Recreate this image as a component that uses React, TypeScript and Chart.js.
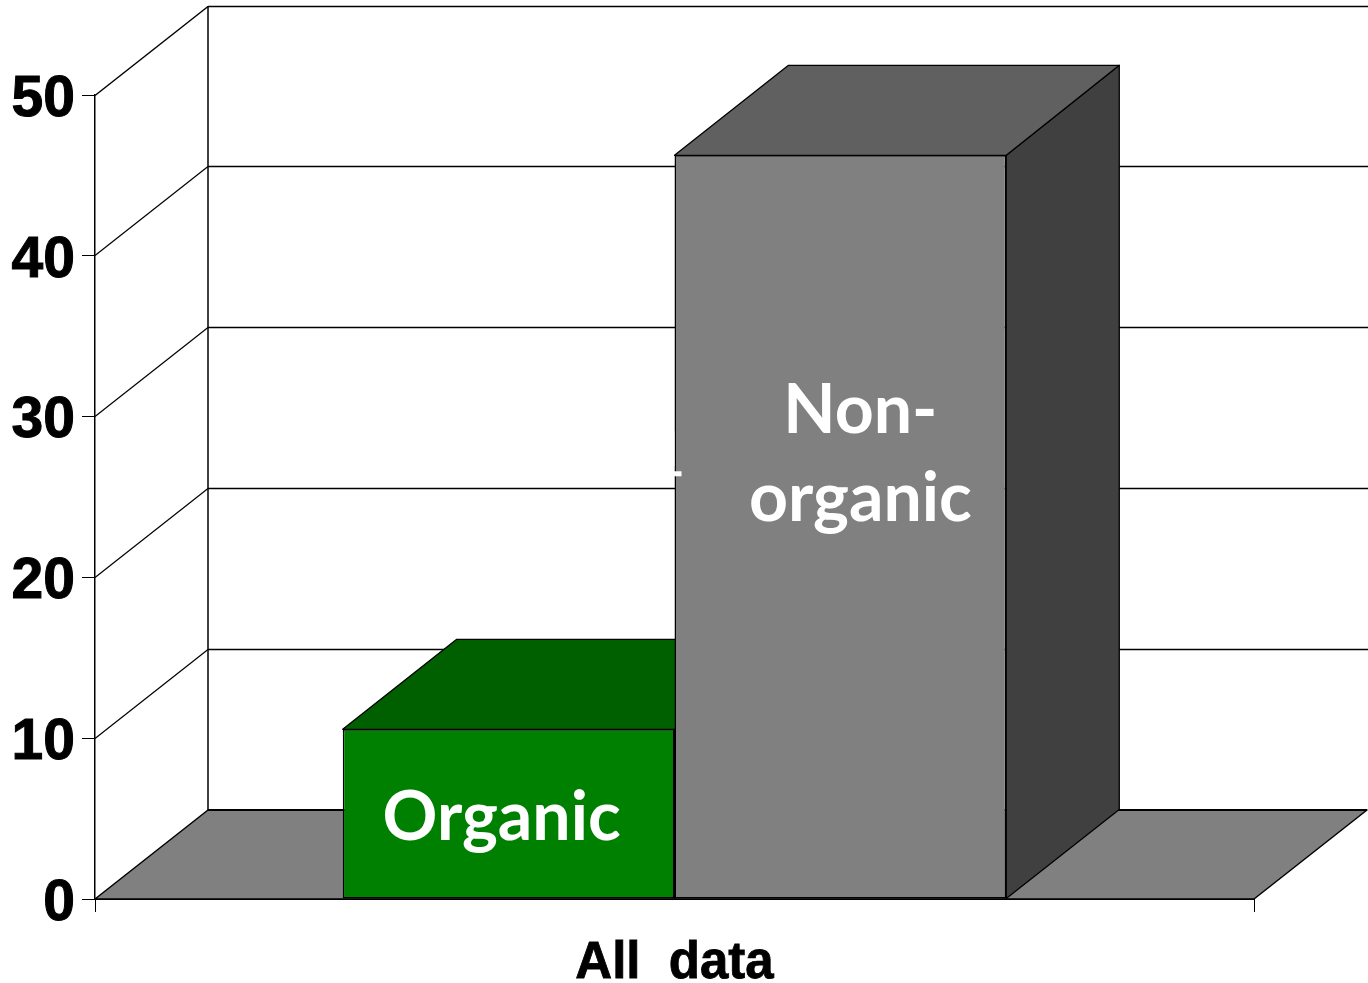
import React, { useEffect, useRef } from "react";
import { Chart, registerables } from "chart.js";

Chart.register(...registerables);

const categories = ["All  data"];
const organicValues = [10.55];
const nonOrganicValues = [46.25];
const organicLabelLines = ["Organic"];
const nonOrganicLabelLines = ["Non-", "organic"];
const yTickStep = 10;
const yMax = 50;

const DEPTH_X = 113;
const DEPTH_Y = -89;
const BAR_DEPTH_Y = -90;
const Y_LABEL_SHIFT = 5;

const poly = (ctx: CanvasRenderingContext2D, pts: number[][], fill: string, lw = 1.5) => {
  ctx.beginPath();
  pts.forEach(([x, y], i) => (i ? ctx.lineTo(x, y) : ctx.moveTo(x, y)));
  ctx.closePath();
  ctx.fillStyle = fill;
  ctx.fill();
  ctx.strokeStyle = "#000";
  ctx.lineWidth = lw;
  ctx.lineJoin = "round";
  ctx.stroke();
};

const line = (ctx: CanvasRenderingContext2D, x1: number, y1: number, x2: number, y2: number, lw: number) => {
  ctx.beginPath();
  ctx.moveTo(x1, y1);
  ctx.lineTo(x2, y2);
  ctx.strokeStyle = "#000";
  ctx.lineWidth = lw;
  ctx.stroke();
};

const walls3d = {
  id: "walls3d",
  beforeDraw(chart: any) {
    // nudge the native y tick labels down to sit where the reference has them
    const y = chart.scales.y;
    if (!y._shiftPatched) {
      const orig = y.getLabelItems.bind(y);
      y.getLabelItems = (area: any) =>
        orig(area).map((it: any) => ({
          ...it,
          options: {
            ...it.options,
            translation: [it.options.translation[0], it.options.translation[1] + Y_LABEL_SHIFT],
          },
        }));
      y._shiftPatched = true;
    }
  },
  beforeDatasetsDraw(chart: any) {
    const { ctx, chartArea: a, scales } = chart;
    const y = scales.y;
    const base = y.getPixelForValue(0);
    const right = a.right + 1;
    ctx.save();
    for (let v = yTickStep; v <= yMax; v += yTickStep) {
      const p = Math.floor(y.getPixelForValue(v)) + 0.5;
      line(ctx, a.left, p, a.left + DEPTH_X, p + DEPTH_Y, v === yMax ? 1.5 : 1.2);
      line(ctx, a.left + DEPTH_X, p + DEPTH_Y, right + DEPTH_X, p + DEPTH_Y, v === yMax ? 1.5 : 1.3);
    }
    line(ctx, a.left + DEPTH_X, base + DEPTH_Y, a.left + DEPTH_X, y.getPixelForValue(yMax) + DEPTH_Y, 1.5);
    poly(ctx, [
      [a.left, base],
      [a.right, base],
      [a.right + DEPTH_X, base + DEPTH_Y],
      [a.left + DEPTH_X, base + DEPTH_Y],
    ], "#808080");
    line(ctx, a.left + DEPTH_X, base + DEPTH_Y, a.right + DEPTH_X, base + DEPTH_Y, 2);
    const tops = ["#006000", "#606060"];
    const sides = ["#004000", "#404040"];
    chart.data.datasets.forEach((_: any, i: number) => {
      const bar = chart.getDatasetMeta(i).data[0];
      const l = bar.x - bar.width / 2;
      const r = bar.x + bar.width / 2;
      poly(ctx, [
        [r, bar.y],
        [r + DEPTH_X, bar.y + BAR_DEPTH_Y],
        [r + DEPTH_X, bar.base + DEPTH_Y],
        [r, bar.base],
      ], sides[i], 1.3);
      poly(ctx, [
        [l, bar.y],
        [l + DEPTH_X + 1, bar.y + BAR_DEPTH_Y],
        [r + DEPTH_X, bar.y + BAR_DEPTH_Y],
        [r, bar.y],
      ], tops[i], 1.3);
    });
    ctx.restore();
  },
  afterDatasetsDraw(chart: any) {
    const { ctx, scales } = chart;
    const y = scales.y;
    const o = chart.getDatasetMeta(0).data[0];
    const n = chart.getDatasetMeta(1).data[0];
    ctx.save();
    ctx.fillStyle = "#fff";
    ctx.textAlign = "center";
    ctx.textBaseline = "alphabetic";
    ctx.font = '700 68px Lato, "Open Sans", sans-serif';
    organicLabelLines.forEach((t) => ctx.fillText(t, o.x - 7, y.getPixelForValue(3.65)));
    nonOrganicLabelLines.forEach((t, i) => ctx.fillText(t, n.x + 20, y.getPixelForValue(29) + i * 88));
    // stray white remnant on the edge of the grey bar
    const left = n.x - n.width / 2;
    ctx.fillRect(left - 1, y.getPixelForValue(26.6), 8, 5);
    ctx.fillStyle = "rgba(255,255,255,0.75)";
    ctx.fillRect(left - 1, y.getPixelForValue(29.1), 1, 35);
    ctx.restore();
  },
};

export default function App() {
  const ref = useRef<HTMLCanvasElement | null>(null);
  useEffect(() => {
    if (!ref.current) return;
    const chart = new Chart(ref.current, {
      type: "bar",
      plugins: [walls3d],
      data: {
        labels: categories,
        datasets: [
          { label: "Organic", data: organicValues, backgroundColor: "#008000" },
          { label: "Non-organic", data: nonOrganicValues, backgroundColor: "#808080" },
        ],
      },
      options: {
        responsive: false,
        animation: false,
        layout: { padding: { top: 95, right: 114, left: 0, bottom: 0 } },
        datasets: {
          bar: {
            barPercentage: 1,
            categoryPercentage: 0.5725,
            borderWidth: 1.5,
            borderColor: "#000",
            borderSkipped: false,
          },
        },
        plugins: { legend: { display: false }, tooltip: { enabled: false }, title: { display: false } },
        scales: {
          x: {
            afterFit: (s: any) => { s.height = 84; },
            border: { color: "#000", width: 2 },
            grid: { drawOnChartArea: false, drawTicks: true, tickLength: 13, color: "#000", lineWidth: 1 },
            ticks: {
              color: "#000",
              padding: 21,
              maxRotation: 0,
              textStrokeColor: "#000",
              textStrokeWidth: 0.8,
              font: { family: '"Liberation Sans", Arial, sans-serif', weight: "bold", size: 51 },
            },
          },
          y: {
            min: 0,
            max: yMax,
            afterFit: (s: any) => { s.width = 95; },
            border: { color: "#000", width: 1.5 },
            grid: { drawOnChartArea: false, drawTicks: true, tickLength: 13, color: "#000", lineWidth: 1 },
            ticks: {
              stepSize: yTickStep,
              color: "#000",
              padding: 7,
              textStrokeColor: "#000",
              textStrokeWidth: 1,
              font: { family: '"Liberation Sans", Arial, sans-serif', weight: "bold", size: 57 },
            },
          },
        },
      } as any,
    });
    return () => chart.destroy();
  }, []);
  return (
    <canvas
      ref={ref}
      width={1368}
      height={983}
      style={{ position: "absolute", left: 0, top: 0, display: "block", background: "#fff" }}
    />
  );
}
